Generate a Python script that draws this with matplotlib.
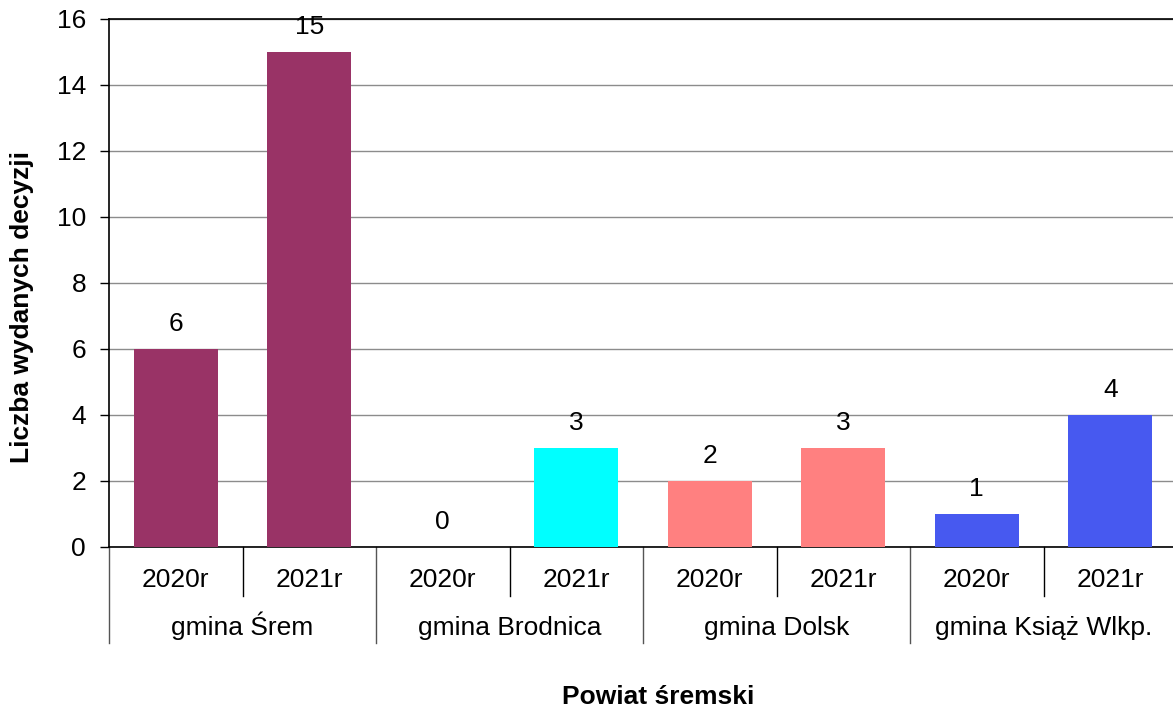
import numpy as np
import matplotlib
matplotlib.use("Agg")
import matplotlib.pyplot as plt
from matplotlib.transforms import blended_transform_factory

plt.rcParams["font.family"] = ["Liberation Sans", "DejaVu Sans"]

# data
gminy = ["gmina Śrem", "gmina Brodnica", "gmina Dolsk", "gmina Książ Wlkp."]
years = ["2020r", "2021r"]
values = [6, 15, 0, 3, 2, 3, 1, 4]
colors = ["#993366", "#993366", "#00FFFF", "#00FFFF",
          "#FF8080", "#FF8080", "#4759F0", "#4759F0"]

FS = 19
W, H = 1173, 713
fig = plt.figure(figsize=(W / 100, H / 100), dpi=100)
ax = fig.add_axes([109 / W, 1 - 547 / H, (1177 - 109) / W, (547 - 19) / H])

x = np.arange(len(values))
ax.bar(x, values, width=0.63, color=colors, zorder=3)
for xi, v in zip(x, values):
    ax.annotate(str(v), (xi, v), xytext=(0, 18), textcoords="offset points",
                ha="center", va="center", fontsize=FS)

ax.set_xlim(-0.5, len(values) - 0.5)
ax.set_ylim(0, 16)
ax.set_yticks(range(0, 17, 2))
ax.yaxis.grid(True, color="#8c8c8c", lw=1, zorder=0)
ax.tick_params(axis="y", labelsize=FS, length=6.5, width=1, pad=10)
ax.set_xticks([])
ax.spines["right"].set_visible(False)
for s in ["left", "bottom", "top"]:
    ax.spines[s].set_linewidth(1.2)
    ax.spines[s].set_color("black")

# two-level category axis
tr = blended_transform_factory(ax.transData, fig.transFigure)
y0 = 1 - 547 / H
y_short = 1 - 596 / H
y_long = 1 - 643 / H
for i in range(len(values) + 1):
    b = i - 0.5
    yb = y_long if i % 2 == 0 else y_short
    ax.plot([b, b], [y0, yb], color="black" if i % 2 else "#555555", lw=1,
            transform=tr, clip_on=False)
for i, v in enumerate(values):
    ax.text(i, 1 - 587 / H, years[i % 2], transform=tr, ha="center",
            va="baseline", fontsize=FS)
for g, name in enumerate(gminy):
    ax.text(2 * g + 0.5, 1 - 635 / H, name, transform=tr, ha="center",
            va="baseline", fontsize=FS)

fig.text(658 / W, 1 - 697 / H, "Powiat śremski", ha="center", va="center",
         fontsize=FS, fontweight="bold")
fig.text(22 / W, 1 - 307 / H, "Liczba wydanych decyzji", ha="center",
         va="center", rotation=90, fontsize=FS, fontweight="bold")

fig.savefig("out.png", dpi=100)
